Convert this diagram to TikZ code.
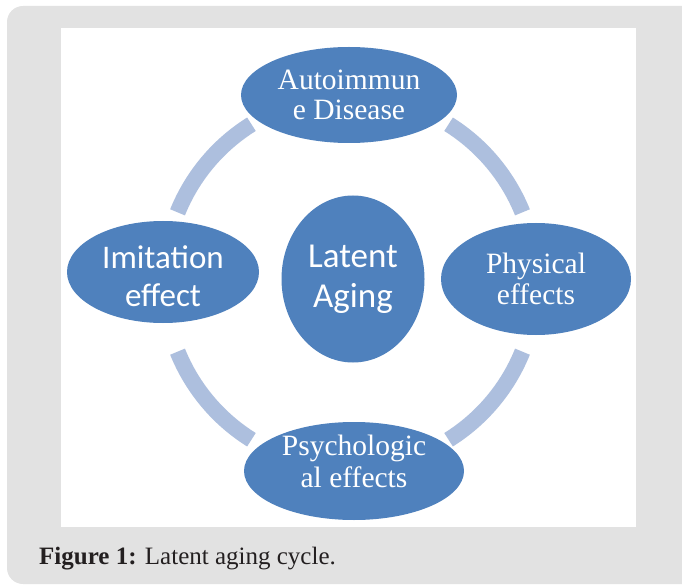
\documentclass[tikz,border=0pt]{standalone}
\usepackage{fontspec}
\usetikzlibrary{shapes.geometric}
\newfontfamily\bubbleserif{Liberation Serif}
\newfontfamily\bubblesans{Carlito}
\definecolor{framegray}{HTML}{E2E2E2}
\definecolor{bubbleblue}{HTML}{4F81BD}
\definecolor{ringblue}{HTML}{ADBFDE}
\definecolor{captionink}{HTML}{231F20}
\tikzset{
  bubble/.style={ellipse, fill=bubbleblue, draw=none, text=white, inner sep=0pt, align=center},
  serifbubble/.style={bubble, font=\bubbleserif\fontsize{29.5}{30}\selectfont},
  sansbubble/.style={bubble, font=\bubblesans\fontsize{33}{38}\selectfont},
  bubbletext/.style={inner sep=0pt, text=white, align=center},
  ringseg/.style={draw=ringblue, line width=16pt, line cap=butt}
}
\begin{document}
\begin{tikzpicture}[x=1pt,y=-1pt]
  \useasboundingbox (0,0) rectangle (682,585);
  % grey frame and white figure panel
  \fill[framegray, rounded corners=16pt] (7,6) rectangle (720,584);
  \fill[white] (61,28) rectangle (636,527);

  % centre of the cycle
  \coordinate (hub) at (350,282);

  % ring segments between the satellites
  \foreach \a/\b in {22/58, 122/158, 202/238, 302/338}
    \draw[ringseg] ([shift={(\a:186)}]hub) arc[start angle=\a, end angle=\b, radius=186];

  % satellites and core
  \node[serifbubble, minimum width=216pt, minimum height=96pt] (auto) at (349,95)
    {Autoimmun\\e Disease};
  \node[serifbubble, minimum width=190pt, minimum height=112pt, font=\bubbleserif\fontsize{29.5}{31}\selectfont] (phys) at (536,279)
    {Physical\\effects};
  \node[bubble, minimum width=220pt, minimum height=98pt] (psych) at (354,471) {};
  \node[bubbletext, font=\bubbleserif\fontsize{29.5}{32}\selectfont] (psychtext) at ([yshift=10pt]psych.center)
    {Psychologic\\al effects};
  \node[bubble, minimum width=192pt, minimum height=102pt] (imit) at (163,272) {};
  \node[bubbletext, font=\bubblesans\fontsize{33}{38}\selectfont] (imittext) at ([yshift=-4pt]imit.center)
    {Imitation\\effect};
  \node[sansbubble, minimum width=143pt, minimum height=167pt, font=\bubblesans\fontsize{35}{40}\selectfont] (core) at (353,279)
    {Latent\\Aging};

  % caption
  \node[anchor=base west, inner sep=0pt, text=captionink, font=\bubbleserif\fontsize{25}{27}\selectfont] (cap) at (39,564)
    {\textbf{Figure 1:} Latent aging cycle.};
\end{tikzpicture}
\end{document}
